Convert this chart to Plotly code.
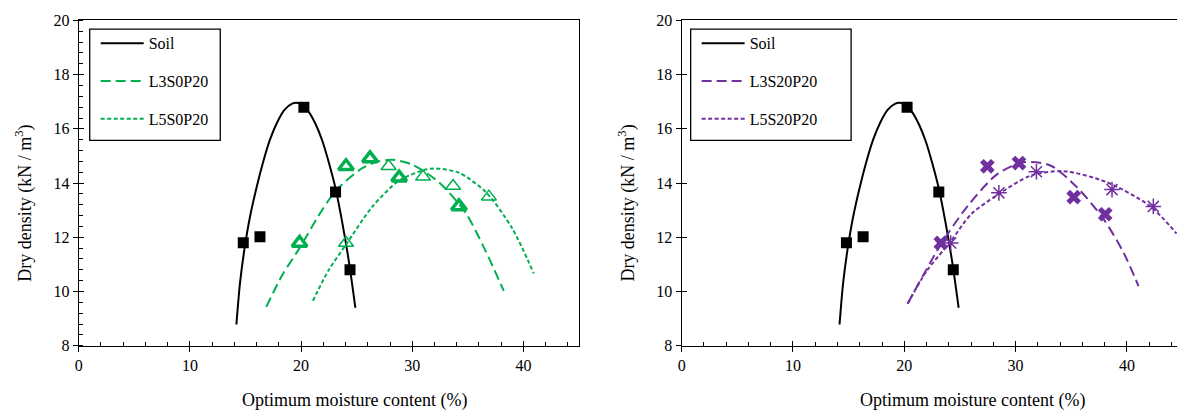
import plotly.graph_objects as go

# ---------------- data ----------------
soil_x = [14.8, 16.3, 20.25, 23.1, 24.4]
soil_y = [11.8, 12.02, 16.8, 13.67, 10.8]
soil_fit_x = [14.18, 14.5, 14.9, 15.4, 16.0, 16.6, 17.2, 17.8, 18.5, 19.2, 19.6, 20.1, 20.7, 21.3, 21.9, 22.5, 23.1, 23.7, 24.3, 24.88]
soil_fit_y = [8.78, 10.3, 11.55, 12.75, 13.85, 14.8, 15.6, 16.2, 16.7, 16.93, 16.96, 16.88, 16.62, 16.18, 15.57, 14.75, 13.8, 12.55, 11.1, 9.4]

l3s0_x = [19.86, 24.04, 26.2, 28.82, 34.2]
l3s0_y = [11.79, 14.62, 14.91, 14.2, 13.14]
l3s0_fit_x = [16.87, 18.3, 19.86, 21.5, 23.15, 25.54, 27.0, 28.2, 30.0, 32.4, 34.8, 36.6, 38.23]
l3s0_fit_y = [9.43, 10.6, 11.6, 12.75, 13.73, 14.56, 14.8, 14.86, 14.68, 14.03, 12.9, 11.49, 10.02]

l5s0_x = [24.04, 27.87, 30.97, 33.67, 36.89]
l5s0_y = [11.79, 14.62, 14.23, 13.89, 13.5]
l5s0_fit_x = [21.06, 22.5, 24.04, 26.43, 28.82, 31.2, 32.1, 34.2, 36.6, 39.0, 40.92]
l5s0_fit_y = [9.66, 10.8, 11.73, 13.14, 14.09, 14.5, 14.54, 14.38, 13.67, 12.32, 10.67]

l3s20_x = [23.28, 27.46, 30.3, 35.22, 38.05]
l3s20_y = [11.79, 14.62, 14.74, 13.48, 12.85]
l3s20_fit_x = [20.3, 23.28, 25.67, 28.35, 30.73, 33.12, 35.5, 37.9, 39.7, 41.04]
l3s20_fit_y = [9.55, 11.73, 13.14, 14.33, 14.77, 14.65, 13.85, 12.67, 11.43, 10.2]

l5s20_x = [24.17, 28.5, 31.87, 38.66, 42.37]
l5s20_y = [11.79, 13.64, 14.42, 13.76, 13.14]
l5s20_fit_x = [20.3, 22.0, 24.17, 26.0, 28.35, 31.33, 34.3, 38.2, 42.08, 44.46]
l5s20_fit_y = [9.55, 10.75, 11.85, 12.85, 13.56, 14.27, 14.44, 14.03, 13.15, 12.14]

x_ticks = [0, 10, 20, 30, 40]
y_ticks = [8, 10, 12, 14, 16, 18, 20]

GREEN = "#00B050"
PURPLE = "#7030A0"
FONT = "Times New Roman, Liberation Serif, serif"

fig = go.Figure()


def curve(x, y, name, color, dash, xa, ya, legend, group):
    fig.add_trace(go.Scatter(x=x, y=y, mode="lines", name=name, line_shape="spline",
                             line=dict(color=color, width=2, dash=dash, smoothing=0.8),
                             xaxis=xa, yaxis=ya, legend=legend, legendgroup=group,
                             hoverinfo="skip"))


def points(x, y, symbol, color, size, lw, xa, ya):
    fig.add_trace(go.Scatter(x=x, y=y, mode="markers", showlegend=False,
                             marker=dict(symbol=symbol, size=size, color=color,
                                         line=dict(color=color, width=lw)),
                             xaxis=xa, yaxis=ya, hoverinfo="skip"))


# Left chart
curve(soil_fit_x, soil_fit_y, "Soil", "black", "solid", "x", "y", "legend", "a1")
curve(l3s0_fit_x, l3s0_fit_y, "L3S0P20", GREEN, "10px,5px", "x", "y", "legend", "a2")
curve(l5s0_fit_x, l5s0_fit_y, "L5S0P20", GREEN, "4px,2.5px", "x", "y", "legend", "a3")
points(soil_x, soil_y, "square", "black", 11, 0, "x", "y")
points(l3s0_x, l3s0_y, "triangle-up-open", GREEN, 13, 3.5, "x", "y")
points(l5s0_x, l5s0_y, "triangle-up-open", GREEN, 13, 1.5, "x", "y")

# Right chart
curve(soil_fit_x, soil_fit_y, "Soil", "black", "solid", "x2", "y2", "legend2", "b1")
curve(l3s20_fit_x, l3s20_fit_y, "L3S20P20", PURPLE, "10px,5px", "x2", "y2", "legend2", "b2")
curve(l5s20_fit_x, l5s20_fit_y, "L5S20P20", PURPLE, "4px,2.5px", "x2", "y2", "legend2", "b3")
points(soil_x, soil_y, "square", "black", 11, 0, "x2", "y2")
points(l3s20_x, l3s20_y, "x", PURPLE, 13, 0, "x2", "y2")
points(l5s20_x, l5s20_y, "asterisk-open", PURPLE, 13, 1.5, "x2", "y2")

# dummy traces for overlay axes (inner half of crossing ticks)
fig.add_trace(go.Scatter(x=[None], y=[None], xaxis="x3", yaxis="y3", showlegend=False, hoverinfo="skip"))
fig.add_trace(go.Scatter(x=[None], y=[None], xaxis="x4", yaxis="y4", showlegend=False, hoverinfo="skip"))

W, H = 1177, 418
L_DOM = [75 / W, 577 / W]
R_DOM = [680 / W, 1.0]
Y_DOM = [1 - 352 / H, 1 - 13 / H]

tickfont = dict(family=FONT, size=16, color="black")
base = dict(showgrid=False, zeroline=False, showline=True, linecolor="black", linewidth=1.3,
            ticks="outside", ticklen=5, tickwidth=1.3, tickcolor="black", tickfont=tickfont)

xr_left = [0, 45]
xr_right = [0, 45 * (1177 - 680) / (1182.6 - 680)]
yr = [8, 20]

overlay = dict(ticks="inside", ticklen=5, tickwidth=1.3, tickcolor="black", showticklabels=False,
               showline=False, showgrid=False, zeroline=False)

fig.update_layout(
    width=W, height=H, margin=dict(l=0, r=0, t=0, b=0),
    plot_bgcolor="white", paper_bgcolor="white",
    font=dict(family=FONT, color="black"),
    xaxis=dict(**base, domain=L_DOM, range=xr_left, tickvals=x_ticks, anchor="y", mirror=True,
               minor=dict(ticks="inside", dtick=2, tick0=0, ticklen=4, tickwidth=1, tickcolor="black", showgrid=False)),
    yaxis=dict(**base, domain=Y_DOM, range=yr, tickvals=y_ticks, anchor="x", mirror=True,
               minor=dict(ticks="inside", dtick=0.4, tick0=8, ticklen=4, tickwidth=1, tickcolor="black", showgrid=False)),
    xaxis2=dict(**base, domain=R_DOM, range=xr_right, tickvals=x_ticks, anchor="y2", mirror=True,
                minor=dict(ticks="inside", dtick=2, tick0=0, ticklen=4, tickwidth=1, tickcolor="black", showgrid=False)),
    yaxis2=dict(**base, domain=Y_DOM, range=yr, tickvals=y_ticks, anchor="x2", mirror=False),
    xaxis3=dict(**overlay, overlaying="x", anchor="y3", range=xr_left, tickvals=x_ticks),
    yaxis3=dict(**overlay, overlaying="y", anchor="x3", range=yr, tickvals=y_ticks),
    xaxis4=dict(**overlay, overlaying="x2", anchor="y4", range=xr_right, tickvals=x_ticks),
    yaxis4=dict(**overlay, overlaying="y2", anchor="x4", range=yr, tickvals=y_ticks),
    legend=dict(x=92 / W, y=1 - 19 / H, xanchor="left", yanchor="top", bgcolor="rgba(0,0,0,0)",
                borderwidth=0, font=dict(family=FONT, size=16, color="black"),
                tracegroupgap=14, itemwidth=43, traceorder="grouped"),
    legend2=dict(x=695 / W, y=1 - 19 / H, xanchor="left", yanchor="top", bgcolor="rgba(0,0,0,0)",
                 borderwidth=0, font=dict(family=FONT, size=16, color="black"),
                 tracegroupgap=14, itemwidth=43, traceorder="grouped"),
    shapes=[
        dict(type="rect", xref="paper", yref="paper", x0=86 / W, x1=217 / W, y0=1 - 138 / H, y1=1 - 22 / H,
             line=dict(color="black", width=1.3), fillcolor="rgba(0,0,0,0)", layer="below"),
        dict(type="rect", xref="paper", yref="paper", x0=689 / W, x1=850 / W, y0=1 - 138 / H, y1=1 - 22 / H,
             line=dict(color="black", width=1.3), fillcolor="rgba(0,0,0,0)", layer="below"),
    ],
    annotations=[
        dict(text="Dry density (kN / m<sup>3</sup>)", xref="paper", yref="paper", x=20 / W, y=1 - 203 / H,
             xanchor="center", yanchor="middle",
             textangle=-90, showarrow=False, font=dict(family=FONT, size=18, color="black")),
        dict(text="Dry density (kN / m<sup>3</sup>)", xref="paper", yref="paper", x=625 / W, y=1 - 203 / H,
             xanchor="center", yanchor="middle",
             textangle=-90, showarrow=False, font=dict(family=FONT, size=18, color="black")),
        dict(text="Optimum moisture content (%)", xref="paper", yref="paper", x=352 / W, y=1 - 409 / H,
             xanchor="center", yanchor="middle",
             showarrow=False, font=dict(family=FONT, size=18, color="black")),
        dict(text="Optimum moisture content (%)", xref="paper", yref="paper", x=972 / W, y=1 - 409 / H,
             xanchor="center", yanchor="middle",
             showarrow=False, font=dict(family=FONT, size=18, color="black")),
    ],
)

fig.write_html("out.html")
